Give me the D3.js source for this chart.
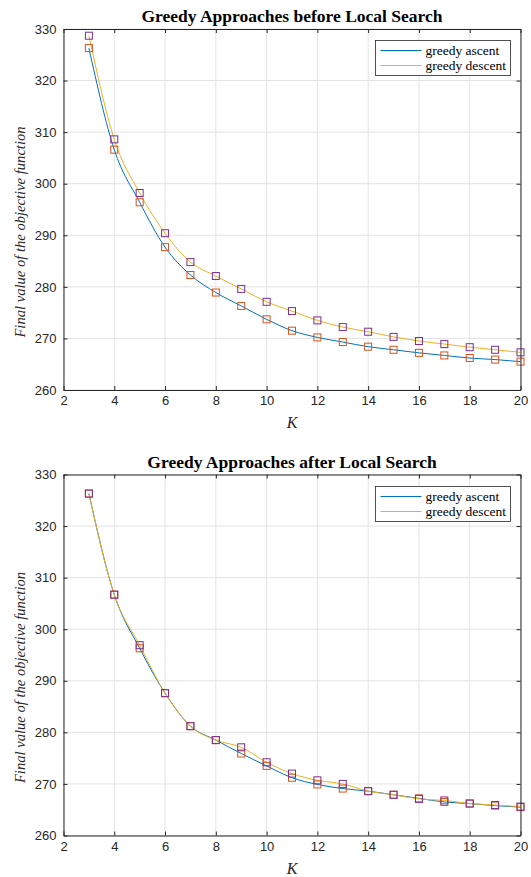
<!DOCTYPE html>
<html>
<head>
<meta charset="utf-8">
<script src="https://cdn.jsdelivr.net/npm/d3@7"></script>
<style>
  body { margin: 0; background: #fff; }
  svg { display: block; }
</style>
</head>
<body>
<div id="chart"></div>
<script>
// values
var kValues = [3, 4, 5, 6, 7, 8, 9, 10, 11, 12, 13, 14, 15, 16, 17, 18, 19, 20];

var beforeAscent  = [326.3, 306.6, 296.4, 287.7, 282.3, 278.9, 276.3, 273.7, 271.5, 270.2, 269.3, 268.4, 267.8, 267.2, 266.7, 266.2, 265.9, 265.5];
var beforeDescent = [328.7, 308.6, 298.2, 290.4, 284.8, 282.1, 279.6, 277.1, 275.3, 273.5, 272.2, 271.3, 270.3, 269.5, 268.9, 268.3, 267.8, 267.3];

var afterAscent  = [326.3, 306.7, 296.3, 287.6, 281.2, 278.5, 275.9, 273.5, 271.2, 269.9, 269.1, 268.6, 267.9, 267.2, 266.5, 266.2, 265.8, 265.5];
var afterDescent = [326.3, 306.7, 296.9, 287.6, 281.2, 278.5, 277.1, 274.2, 272.0, 270.7, 270.0, 268.6, 267.9, 267.1, 266.8, 266.2, 265.9, 265.6];

var xTicks = [2, 4, 6, 8, 10, 12, 14, 16, 18, 20];
var yTicks = [260, 270, 280, 290, 300, 310, 320, 330];
var seriesNames = ["greedy ascent", "greedy descent"];

var width = 531, height = 877;
var left = 63.5, right = 520.5;

var blue = "#0072BD", yellow = "#EDB120", orange = "#D95319", purple = "#7E2F8E";
var axisColor = "#262626";

var svg = d3.select("#chart")
    .append("svg")
        .attr("width", width)
        .attr("height", height);

function drawPanel(top, bottom, title, ascent, descent) {
    var x = d3.scaleLinear().domain([2, 20]).range([left, right]);
    var y = d3.scaleLinear().domain([260, 330]).range([bottom, top]);

    var g = svg.append("g");

    // grid
    g.selectAll(".vgrid").data(xTicks).enter().append("line")
        .attr("x1", d => x(d)).attr("x2", d => x(d))
        .attr("y1", top).attr("y2", bottom)
        .attr("stroke", "#e3e3e3").attr("stroke-width", 1);
    g.selectAll(".hgrid").data(yTicks).enter().append("line")
        .attr("y1", d => y(d)).attr("y2", d => y(d))
        .attr("x1", left).attr("x2", right)
        .attr("stroke", "#e3e3e3").attr("stroke-width", 1);

    // series lines
    var line = d3.line()
        .x((d, i) => x(kValues[i]))
        .y(d => y(d))
        .curve(d3.curveMonotoneX);

    g.append("path").datum(ascent)
        .attr("d", line).attr("fill", "none")
        .attr("stroke", blue).attr("stroke-width", 1);
    g.append("path").datum(descent)
        .attr("d", line).attr("fill", "none")
        .attr("stroke", yellow).attr("stroke-width", 1);

    // square markers
    var s = 7;
    g.selectAll(".mA").data(ascent).enter().append("rect")
        .attr("x", (d, i) => x(kValues[i]) - s / 2)
        .attr("y", d => y(d) - s / 2)
        .attr("width", s).attr("height", s)
        .attr("fill", "none").attr("stroke", orange).attr("stroke-width", 1);
    g.selectAll(".mD").data(descent).enter().append("rect")
        .attr("x", (d, i) => x(kValues[i]) - s / 2)
        .attr("y", d => y(d) - s / 2)
        .attr("width", s).attr("height", s)
        .attr("fill", "none").attr("stroke", purple).attr("stroke-width", 1);

    // axes (ticks inside, mirrored on top and right)
    var tickFont = function(sel) {
        sel.selectAll("text")
            .attr("fill", axisColor)
            .style("font-family", "'Liberation Sans', Arial, sans-serif")
            .style("font-size", "13px");
        sel.selectAll("line").attr("stroke", axisColor);
        sel.select(".domain").attr("stroke", axisColor);
    };

    g.append("g")
        .attr("transform", "translate(0," + bottom + ")")
        .call(d3.axisBottom(x).tickValues(xTicks).tickSize(-4).tickSizeOuter(0).tickPadding(6))
        .call(tickFont);
    g.append("g")
        .attr("transform", "translate(" + left + ",0)")
        .call(d3.axisLeft(y).tickValues(yTicks).tickSize(-4).tickSizeOuter(0).tickPadding(7))
        .call(tickFont);
    g.append("g")
        .attr("transform", "translate(0," + top + ")")
        .call(d3.axisTop(x).tickValues(xTicks).tickSize(-4).tickSizeOuter(0).tickFormat(""))
        .call(tickFont);
    g.append("g")
        .attr("transform", "translate(" + right + ",0)")
        .call(d3.axisRight(y).tickValues(yTicks).tickSize(-4).tickSizeOuter(0).tickFormat(""))
        .call(tickFont);

    // title
    g.append("text")
        .attr("x", (left + right) / 2)
        .attr("y", top - 7)
        .attr("text-anchor", "middle")
        .style("font-family", "'Liberation Serif', 'Times New Roman', serif")
        .style("font-weight", "bold")
        .style("font-size", "17.5px")
        .attr("fill", "#000")
        .text(title);

    // axis labels
    g.append("text")
        .attr("x", (left + right) / 2)
        .attr("y", bottom + 38)
        .attr("text-anchor", "middle")
        .style("font-family", "'Liberation Serif', 'Times New Roman', serif")
        .style("font-style", "italic")
        .style("font-size", "16px")
        .attr("fill", axisColor)
        .text("K");

    g.append("text")
        .attr("transform", "translate(25," + (top + 203) + ") rotate(-90)")
        .attr("text-anchor", "middle")
        .style("font-family", "'Liberation Serif', 'Times New Roman', serif")
        .style("font-style", "italic")
        .style("font-size", "14.6px")
        .attr("fill", axisColor)
        .text("Final value of the objective function");

    // legend
    var ly = Math.round(top + 11) + 0.5;
    var lg = g.append("g").attr("transform", "translate(375.5," + ly + ")");
    lg.append("rect")
        .attr("width", 135).attr("height", 35)
        .attr("fill", "#fff").attr("stroke", axisColor).attr("stroke-width", 0.8);
    var legendColors = [blue, yellow];
    seriesNames.forEach(function(name, i) {
        lg.append("line")
            .attr("x1", 5).attr("x2", 46)
            .attr("y1", 10 + i * 15).attr("y2", 10 + i * 15)
            .attr("stroke", legendColors[i]).attr("stroke-width", 1.2);
        lg.append("text")
            .attr("x", 50).attr("y", 14 + i * 15)
            .style("font-family", "'Liberation Serif', 'Times New Roman', serif")
            .style("font-size", "13.5px")
            .attr("fill", "#000")
            .text(name);
    });
}

drawPanel(29, 390, "Greedy Approaches before Local Search", beforeAscent, beforeDescent);
drawPanel(474.5, 835.5, "Greedy Approaches after Local Search", afterAscent, afterDescent);
</script>
</body>
</html>
